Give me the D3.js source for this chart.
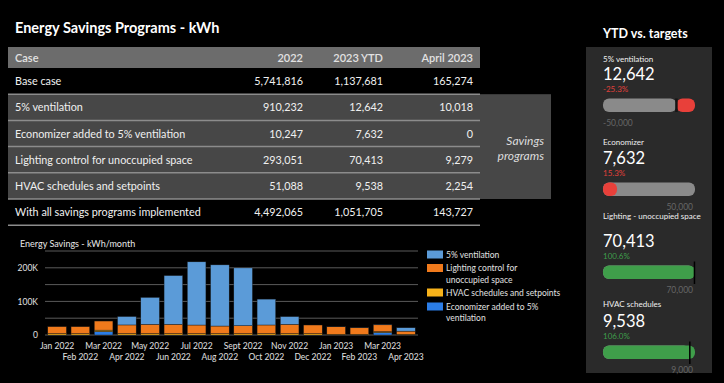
<!DOCTYPE html>
<html><head><meta charset="utf-8">
<script src="https://cdn.jsdelivr.net/npm/d3@7"></script>
<style>body{margin:0;background:#000;} svg{display:block;font-family:Lato,'Open Sans',sans-serif;}</style>
</head><body><svg id="c" width="724" height="383"></svg>
<script>
// ---------- DATA ----------
const tableColumns = ["Case", "2022", "2023 YTD", "April 2023"];
const caseNames = ["Base case", "5% ventilation", "Economizer added to 5% ventilation",
  "Lighting control for unoccupied space", "HVAC schedules and setpoints",
  "With all savings programs implemented"];
const values2022 = [5741816, 910232, 10247, 293051, 51088, 4492065];
const valuesYTD = [1137681, 12642, 7632, 70413, 9538, 1051705];
const valuesApril = [165274, 10018, 0, 9279, 2254, 143727];

const months = ["Jan 2022","Feb 2022","Mar 2022","Apr 2022","May 2022","Jun 2022","Jul 2022","Aug 2022",
  "Sept 2022","Oct 2022","Nov 2022","Dec 2022","Jan 2023","Feb 2023","Mar 2023","Apr 2023"];
const seriesNames = ["5% ventilation", "Lighting control for unoccupied space",
  "HVAC schedules and setpoints", "Economizer added to 5% ventilation"];
const ventilation = [0, 0, 0, 25000, 80000, 145000, 188000, 182000, 172000, 77000, 23000, 0, 800, 600, 1224, 10018];
const lighting = [20500, 20500, 27000, 25500, 27500, 27500, 25500, 22500, 23500, 25500, 27500, 25500, 22000, 19000, 20134, 9279];
const hvac = [4300, 4200, 4300, 4400, 4300, 4300, 4200, 4200, 4200, 4300, 4200, 4200, 2400, 2400, 2484, 2254];
const economizer = [0, 0, 10247, 0, 0, 0, 0, 0, 0, 0, 0, 0, 0, 0, 7632, 0];
const yTickValues = [0, 100000, 200000];
const gridValues = [0, 50000, 100000, 150000, 200000, 250000];

const targetNames = ["5% ventilation", "Economizer", "Lighting - unoccupied space", "HVAC schedules"];
const targetActuals = [12642, 7632, 70413, 9538];
const targetGoals = [-50000, 50000, 70000, 9000];

// ---------- COLOURS ----------
const seriesColors = ["#5b9bd8", "#f07a1c", "#f7b21a", "#2b7de6"];
const svg = d3.select("#c");
const fmt = d3.format(",");
const hy = s => s.replace("\u2212", "-");

// ---------- TITLE ----------
svg.append("text").attr("x", 15).attr("y", 33).attr("fill", "#fff")
  .attr("font-size", 14.5).attr("font-weight", 700).text("Energy Savings Programs - kWh");

// ---------- TABLE ----------
const tX0 = 8, tX1 = 480;
const colX = [15, 303, 383, 473];
const headerTop = 47, headerH = 21, rowTop = 68, rowH = 26.2;
const tbl = svg.append("g");
tbl.append("rect").attr("x", tX0).attr("y", headerTop).attr("width", tX1 - tX0).attr("height", headerH).attr("fill", "#6c6c6c");
tbl.append("rect").attr("x", tX0).attr("y", rowTop + rowH).attr("width", 551 - tX0).attr("height", rowH * 4)
  .attr("fill", "#474747");
tableColumns.forEach((c, i) => {
  tbl.append("text").attr("x", colX[i]).attr("y", headerTop + 14.5).attr("fill", "#e2e2e2")
    .attr("font-size", 11).attr("font-weight", 600).attr("text-anchor", i ? "end" : "start").text(c);
});
caseNames.forEach((n, i) => {
  const y = rowTop + i * rowH;
  if (i >= 1) {
    tbl.append("line").attr("x1", tX0).attr("x2", tX1).attr("y1", y).attr("y2", y)
      .attr("stroke", "#8c8c8c").attr("stroke-width", 1.5);
  }
  const ty = y + rowH / 2 + 4;
  const vals = [n, fmt(values2022[i]), fmt(valuesYTD[i]), fmt(valuesApril[i])];
  vals.forEach((v, j) => {
    tbl.append("text").attr("x", colX[j]).attr("y", ty).attr("fill", "#f0f0f0")
      .attr("font-size", 10.8).attr("text-anchor", j ? "end" : "start").text(v);
  });
});
const bottomY = rowTop + caseNames.length * rowH;
tbl.append("line").attr("x1", tX0).attr("x2", tX1).attr("y1", bottomY).attr("y2", bottomY)
  .attr("stroke", "#8c8c8c").attr("stroke-width", 1.5);
tbl.append("text").attr("x", 544).attr("y", 145).attr("fill", "#dcdcdc").attr("font-size", 12)
  .attr("font-style", "italic").attr("text-anchor", "end").text("Savings");
tbl.append("text").attr("x", 544).attr("y", 160).attr("fill", "#dcdcdc").attr("font-size", 12)
  .attr("font-style", "italic").attr("text-anchor", "end").text("programs");

// ---------- BAR CHART ----------
svg.append("text").attr("x", 20).attr("y", 247).attr("fill", "#e8e8e8").attr("font-size", 9)
  .text("Energy Savings - kWh/month");
const data = months.map((m, i) => ({month: m, vent: ventilation[i], light: lighting[i], hvac: hvac[i], econ: economizer[i]}));
const keys = ["econ", "hvac", "light", "vent"];
const keyColor = {vent: seriesColors[0], light: seriesColors[1], hvac: seriesColors[2], econ: seriesColors[3]};
const x = d3.scaleBand().domain(months).range([45, 418]).paddingInner(0.2).paddingOuter(0.12);
const y = d3.scaleLinear().domain([0, 250000]).range([335, 251]);
const gChart = svg.append("g");
gChart.selectAll("line.grid").data(gridValues).join("line").attr("class", "grid")
  .attr("x1", 45).attr("x2", 418).attr("y1", d => y(d)).attr("y2", d => y(d))
  .attr("stroke", "#5a5a5a").attr("stroke-width", 1);
const stacked = d3.stack().keys(keys)(data);
gChart.selectAll("g.layer").data(stacked).join("g").attr("class", "layer")
  .attr("fill", d => keyColor[d.key])
  .selectAll("rect").data(d => d).join("rect")
  .attr("x", d => x(d.data.month)).attr("width", x.bandwidth())
  .attr("y", d => y(d[1])).attr("height", d => Math.max(0, y(d[0]) - y(d[1])))
  .attr("stroke", "#1a1a1a").attr("stroke-width", 0.4);
const yAxis = d3.axisLeft(y).tickValues(yTickValues).tickSize(0).tickPadding(0)
  .tickFormat(d => d === 0 ? "0" : d3.format("~s")(d).replace("k", "K"));
const ya = gChart.append("g").attr("transform", "translate(38,0)").call(yAxis);
ya.select(".domain").remove();
ya.selectAll("text").attr("fill", "#e0e0e0").attr("font-size", 8.5).attr("font-family", "Lato").attr("dy", "0.32em");
const xAxis = d3.axisBottom(x).tickSize(0).tickPadding(0);
const xa = gChart.append("g").attr("transform", "translate(0,335)").call(xAxis);
xa.select(".domain").remove();
xa.selectAll("text").attr("fill", "#e0e0e0").attr("font-size", 8.5).attr("font-family", "Lato")
  .attr("dy", null).attr("y", (d, i) => i % 2 === 0 ? 14 : 25);
const legY = [[254.5], [268, 279.5], [292.5], [306.5, 318]];
const legLines = [["5% ventilation"], ["Lighting control for", "unoccupied space"], ["HVAC schedules and setpoints"], ["Economizer added to 5%", "ventilation"]];
seriesNames.forEach((s, i) => {
  svg.append("rect").attr("x", 427).attr("y", legY[i][0] - 4).attr("width", 16).attr("height", 8).attr("fill", seriesColors[i]);
  legLines[i].forEach((t, k) => {
    svg.append("text").attr("x", 446).attr("y", legY[i][k] + 3).attr("fill", "#e0e0e0").attr("font-size", 8.5).text(t);
  });
});

// ---------- YTD VS TARGETS ----------
svg.append("text").attr("x", 603).attr("y", 38).attr("fill", "#fff").attr("font-size", 12.5)
  .attr("font-weight", 700).text("YTD vs. targets");
svg.append("rect").attr("x", 586).attr("y", 47).attr("width", 126).attr("height", 326).attr("fill", "#2a2a2a");
const labelY = [59, 142, 216, 304];
const numY = [73, 157, 240, 320];
const pctFmt = d3.format(".1%");
const bx0 = 603, bx1 = 695, bh = 13.5;
targetNames.forEach((n, i) => {
  const v = targetActuals[i], t = targetGoals[i];
  const ratio = v / t;
  const ok = ratio >= 1;
  const g = svg.append("g");
  g.append("text").attr("x", bx0).attr("y", labelY[i] + 3).attr("fill", "#f0f0f0").attr("font-size", 8).text(n);
  g.append("text").attr("x", bx0).attr("y", numY[i] + 6.5).attr("fill", "#fff").attr("font-size", 16.5).text(fmt(v));
  g.append("text").attr("x", bx0).attr("y", numY[i] + 19).attr("fill", ok ? "#3f9e4a" : "#e0403a")
    .attr("font-size", 8).text(hy(pctFmt(ratio)));
  const s = d3.scaleLinear().domain([Math.min(0, t), Math.max(v, t)]).range([bx0, bx1]);
  const top = numY[i] + 25.5;
  g.append("rect").attr("x", s(Math.min(0, t))).attr("y", top)
    .attr("width", s(Math.max(0, t)) - s(Math.min(0, t))).attr("height", bh).attr("rx", 6).attr("fill", "#8a8a8a");
  g.append("rect").attr("x", s(Math.min(0, v))).attr("y", top)
    .attr("width", Math.abs(s(v) - s(0))).attr("height", bh).attr("rx", 6).attr("fill", ok ? "#3f9e4a" : "#e8403a");
  if (t < 0) {
    g.append("line").attr("x1", s(0)).attr("x2", s(0)).attr("y1", top).attr("y2", top + bh)
      .attr("stroke", "#151515").attr("stroke-width", 2.5);
  }
  if (ok) {
    g.append("line").attr("x1", s(t)).attr("x2", s(t)).attr("y1", top - 4).attr("y2", top + bh + 5)
      .attr("stroke", "#000").attr("stroke-width", 1.5);
  }
  g.append("text").attr("x", t < 0 ? s(t) : bx1 - 2).attr("y", numY[i] + 53)
    .attr("text-anchor", t < 0 ? "start" : "end").attr("fill", "#666").attr("font-size", 8.5)
    .text(hy(fmt(t)));
});
</script></body></html>
